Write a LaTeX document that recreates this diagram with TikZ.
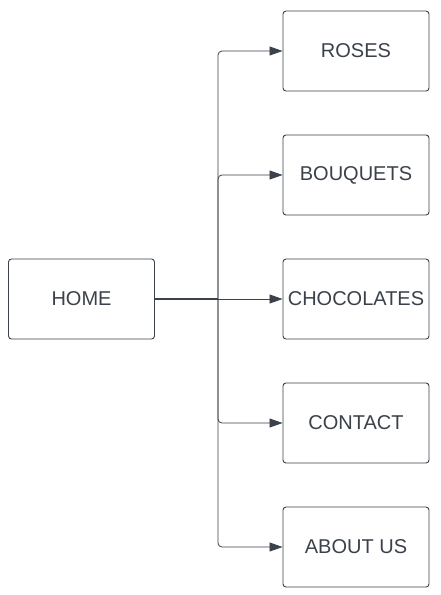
\documentclass[tikz,border=0pt]{standalone}
\usepackage{fontspec}
\setmainfont{Liberation Sans}
\usetikzlibrary{arrows.meta,positioning}
\definecolor{ink}{HTML}{3A414A}
\tikzset{
  page/.style={draw=ink, line width=0.9pt, rounded corners=3pt, minimum width=146pt, minimum height=80pt, text=ink, font=\fontsize{20}{22}\selectfont, inner sep=1pt},
  link/.style={draw=ink, line width=0.8pt, rounded corners=4pt, -{Triangle[length=13pt,width=9pt]}}
}
\begin{document}
\begin{tikzpicture}[x=1pt,y=-1pt]
        \useasboundingbox (0,0) rectangle (440,595);
        \node[page] (home) at (81.5,299) {HOME};
        \node[page] (roses) at (356,51) {ROSES};
        \node[page] (bouquets) at (356,175) {BOUQUETS};
        \node[page] (choc) at (356,299) {CHOCOLATES};
        \node[page] (contact) at (356,423) {CONTACT};
        \node[page] (about) at (356,547) {ABOUT US};
        \coordinate (fork) at (218,299);
        \draw[draw=ink, line width=1.2pt] (home.east) -- (fork);
        \draw[link] (fork) |- (roses.west);
        \draw[link] (fork) |- (bouquets.west);
        \draw[link] (fork) -- (choc.west);
        \draw[link] (fork) |- (contact.west);
        \draw[link] (fork) |- (about.west);
    \end{tikzpicture}
\end{document}
